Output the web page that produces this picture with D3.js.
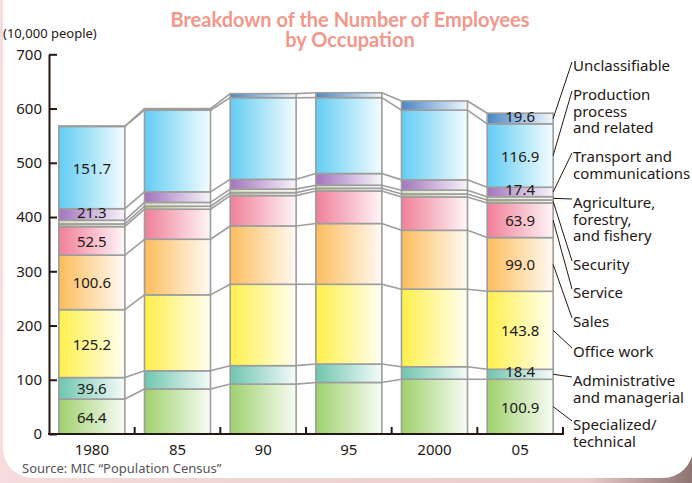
<!DOCTYPE html>
<html>
<head>
<meta charset="utf-8">
<script src="https://cdn.jsdelivr.net/npm/d3@7"></script>
<style>
  body { margin: 0; background: #fff; }
  svg { display: block; }
  text { font-family: "Noto Sans", "DejaVu Sans", sans-serif; fill: #231815; }
</style>
</head>
<body>
<script>
// years on the x axis
const years = ["1980", "85", "90", "95", "2000", "05"];

// occupations, bottom of the stack to the top
const occupations = ["specialized", "administrative", "office", "sales", "service",
  "security", "agriculture", "transport", "production", "unclassifiable"];

// values in 10,000 people, one per year
const specialized    = [64.4, 83.0, 92.0, 95.0, 101.0, 100.9];
const administrative = [39.6, 33.5, 34.0, 34.0, 23.0, 18.4];
const office         = [125.2, 140.0, 150.0, 147.0, 143.0, 143.8];
const sales          = [100.6, 102.5, 107.5, 112.0, 108.5, 99.0];
const service        = [52.5, 55.4, 56.0, 60.0, 61.5, 63.9];
const security       = [5.0, 5.5, 5.5, 5.0, 5.5, 5.5];
const agriculture    = [6.7, 7.0, 6.5, 5.6, 7.0, 6.0];
const transport      = [21.3, 19.5, 18.0, 21.5, 19.0, 17.4];
const production     = [151.7, 150.5, 150.5, 140.0, 128.5, 116.9];
const unclassifiable = [0.8, 3.0, 7.5, 9.0, 17.0, 19.6];

const yTicks = [0, 100, 200, 300, 400, 500, 600, 700];

const legendText = {
  specialized: ["Specialized/", "technical"],
  administrative: ["Administrative", "and managerial"],
  office: ["Office work"],
  sales: ["Sales"],
  service: ["Service"],
  security: ["Security"],
  agriculture: ["Agriculture,", "forestry,", "and fishery"],
  transport: ["Transport and", "communications"],
  production: ["Production", "process", "and related"],
  unclassifiable: ["Unclassifiable"]
};

const colors = {
  specialized: "#9fd16c", administrative: "#6fc6ae", office: "#fff04a",
  sales: "#fdbd5c", service: "#f07f98", security: "#b9bd83",
  agriculture: "#d9ddbd", transport: "#a274bd", production: "#62cdf4",
  unclassifiable: "#4a86c5"
};

// layout of the label column (centre of first line)
const legendY = {
  specialized: 424, administrative: 380, office: 351, sales: 321, service: 292,
  security: 264, agriculture: 202, transport: 156, production: 94, unclassifiable: 65
};

const series = { specialized, administrative, office, sales, service,
  security, agriculture, transport, production, unclassifiable };

const rows = years.map((yr, i) => {
  const r = { year: yr };
  occupations.forEach(k => r[k] = series[k][i]);
  return r;
});
const stacked = d3.stack().keys(occupations)(rows);

const W = 692, H = 483;
const svg = d3.select("body").append("svg").attr("width", W).attr("height", H);
const defs = svg.append("defs");

// backdrop + white rounded panel
const bg = defs.append("linearGradient").attr("id", "bg").attr("x1", 0).attr("x2", 1).attr("y1", 0).attr("y2", 0);
bg.append("stop").attr("offset", 0).attr("stop-color", "#f6dcdc");
bg.append("stop").attr("offset", 0.85).attr("stop-color", "#e9cccc");
bg.append("stop").attr("offset", 1).attr("stop-color", "#8f7474");
svg.append("rect").attr("width", W).attr("height", H).attr("fill", "url(#bg)");
svg.append("rect").attr("x", 3).attr("y", -40).attr("width", 690).attr("height", 518)
  .attr("rx", 30).attr("fill", "#fff");

occupations.forEach(k => {
  const g = defs.append("linearGradient").attr("id", "g-" + k).attr("x1", 0).attr("x2", 1).attr("y1", 0).attr("y2", 0);
  g.append("stop").attr("offset", 0).attr("stop-color", colors[k]);
  g.append("stop").attr("offset", 1).attr("stop-color", d3.interpolateRgb(colors[k], "#fff")(0.93));
});

const x = d3.scaleBand().domain(years).range([49, 563]).paddingInner(0.23).paddingOuter(0.115);
const y = d3.scaleLinear().domain([0, 700]).range([434, 54.3]);
const bw = x.bandwidth();
const gap = x.step() * x.paddingInner();

// title
["Breakdown of the Number of Employees", "by Occupation"].forEach((t, i) => {
  svg.append("text").attr("x", 350).attr("y", 19 + i * 20).attr("text-anchor", "middle")
    .attr("dominant-baseline", "central")
    .style("font-family", "Lato, sans-serif").style("font-weight", 700).style("font-size", "20px")
    .style("fill", "#f4978a").text(t);
});

svg.append("text").attr("x", 3).attr("y", 33).attr("dominant-baseline", "central")
  .style("font-size", "13px").text("(10,000 people)");

// connectors between neighbouring bars
const conn = svg.append("g").attr("stroke", "#9d9d9d").attr("stroke-width", 1.6).attr("fill", "none");
stacked.forEach(s => {
  for (let i = 0; i < years.length - 1; i++) {
    conn.append("line")
      .attr("x1", x(years[i]) + bw).attr("y1", y(s[i][1]))
      .attr("x2", x(years[i + 1])).attr("y2", y(s[i + 1][1]));
  }
});

// stacked bars
svg.append("g").selectAll("g").data(stacked).join("g")
  .attr("fill", d => `url(#g-${d.key})`)
  .selectAll("rect").data(d => d).join("rect")
  .attr("x", d => x(d.data.year)).attr("width", bw)
  .attr("y", d => y(d[1])).attr("height", d => y(d[0]) - y(d[1]))
  .attr("stroke", "#9d9d9d").attr("stroke-width", 1.6);

// value labels on first and last bars
const labelled = [years[0], years[years.length - 1]];
stacked.forEach(s => {
  s.forEach(d => {
    const v = d[1] - d[0];
    if (!labelled.includes(d.data.year) || v < 10) return;
    const h = y(d[0]) - y(d[1]);
    svg.append("text")
      .attr("x", x(d.data.year) + bw / 2)
      .attr("y", (y(d[0]) + y(d[1])) / 2 - (h < 15 ? 3 : 0))
      .attr("text-anchor", "middle").attr("dominant-baseline", "central")
      .style("font-size", "15px").text(v.toFixed(1));
  });
});

// axes
const yAxis = svg.append("g").attr("transform", "translate(49,0)")
  .call(d3.axisLeft(y).tickValues(yTicks).tickSizeInner(-8).tickSizeOuter(0).tickPadding(7));
yAxis.select(".domain").attr("stroke", "#231815").attr("stroke-width", 2);
yAxis.selectAll(".tick line").attr("stroke", "#231815").attr("stroke-width", 2);
yAxis.selectAll("text").style("font-size", "15px").style("font-family", "Noto Sans, sans-serif").attr("fill", "#231815");

const xAxis = svg.append("g").attr("transform", "translate(0,434)")
  .call(d3.axisBottom(x).tickSize(0).tickPadding(10));
xAxis.select(".domain").remove();
xAxis.selectAll("text").style("font-size", "15px").style("font-family", "Noto Sans, sans-serif").attr("fill", "#231815");
svg.append("line").attr("x1", 48).attr("x2", 564).attr("y1", 434).attr("y2", 434)
  .attr("stroke", "#231815").attr("stroke-width", 2);
svg.append("g").selectAll("line").data(years.slice(1).concat(["end"])).join("line")
  .attr("x1", d => d === "end" ? 563 : x(d) - gap / 2)
  .attr("x2", d => d === "end" ? 563 : x(d) - gap / 2)
  .attr("y1", 434).attr("y2", 427)
  .attr("stroke", "#231815").attr("stroke-width", 2);

// label column with leader lines
const last = years.length - 1;
const barRight = x(years[last]) + bw;
stacked.forEach(s => {
  const k = s.key;
  const ly = legendY[k];
  const d = s[last];
  svg.append("line")
    .attr("x1", barRight).attr("y1", (y(d[0]) + y(d[1])) / 2)
    .attr("x2", 572).attr("y2", ly - 3)
    .attr("stroke", "#231815").attr("stroke-width", 1);
  legendText[k].forEach((line, i) => {
    svg.append("text").attr("x", 573).attr("y", ly + i * 16.6)
      .attr("dominant-baseline", "central").style("font-size", "15px").text(line);
  });
});

svg.append("text").attr("x", 22).attr("y", 468).attr("dominant-baseline", "central")
  .style("font-size", "13px").style("fill", "#555").text("Source:  MIC “Population Census”");
</script>
</body>
</html>
